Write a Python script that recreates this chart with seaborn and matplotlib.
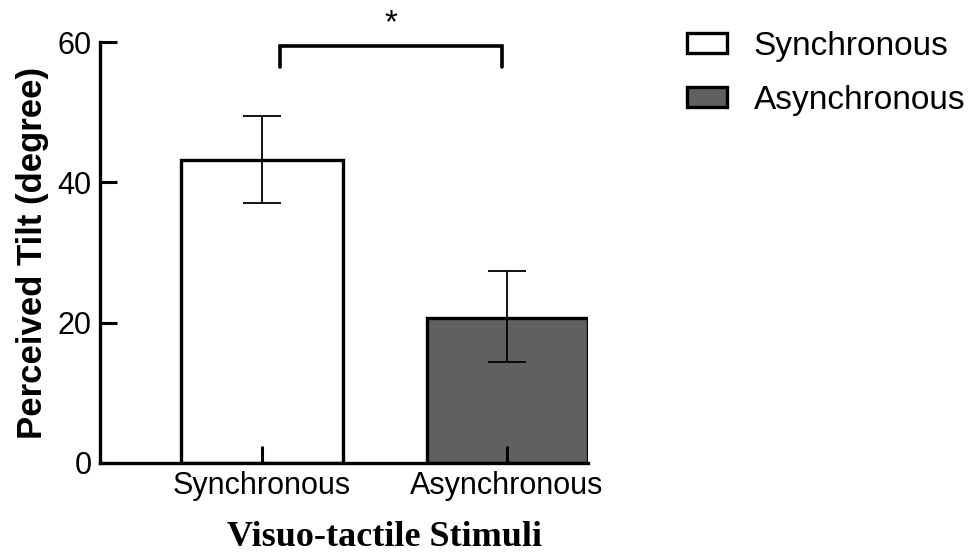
import matplotlib
matplotlib.use("Agg")
import matplotlib.pyplot as plt
from matplotlib.patches import Patch
import seaborn as sns
import pandas as pd

# Data
categories = ["Synchronous", "Asynchronous"]
means = [43.2, 20.6]
err_lower = [37.1, 14.4]
err_upper = [49.4, 27.3]
bar_colors = ["#ffffff", "#606060"]
yticks = [0, 20, 40, 60]
sig_label = "*"

sns.set_style("ticks")
plt.rcParams["font.family"] = ["Liberation Sans", "DejaVu Sans"]
plt.rcParams["text.color"] = "black"
plt.rcParams["axes.labelcolor"] = "black"

fig = plt.figure(figsize=(9.78, 5.55), dpi=100)
ax = fig.add_axes([100 / 978, 1 - 463 / 555, 488 / 978, (463 - 42) / 555])

df = pd.DataFrame({"cond": categories, "tilt": means})
sns.barplot(data=df, x="cond", y="tilt", hue="cond", palette=bar_colors,
            edgecolor="black", linewidth=2.4, width=0.657, legend=False,
            errorbar=None, ax=ax, zorder=1)

xs = list(range(len(categories)))
yerr = [[m - lo for m, lo in zip(means, err_lower)],
        [hi - m for m, hi in zip(means, err_upper)]]
ax.errorbar(xs, means, yerr=yerr, fmt="none", ecolor="black",
            elinewidth=1.3, capsize=14, capthick=1.3, zorder=3)

ax.set_axisbelow(False)
ax.set_xlim(-0.661, 1.33)
ax.set_ylim(0, 60)
ax.set_yticks(yticks)
ax.set_xticks(xs)
ax.set_xticklabels(categories)

for s in ["top", "right"]:
    ax.spines[s].set_visible(False)
for s in ["left", "bottom"]:
    ax.spines[s].set_linewidth(2.4)
    ax.spines[s].set_color("black")

ax.tick_params(axis="both", direction="in", length=12, width=2.2,
               colors="black", labelsize=22)
ax.tick_params(axis="y", pad=6)
ax.tick_params(axis="x", pad=6)

ax.set_ylabel("Perceived Tilt (degree)", fontsize=25, fontweight="bold",
              labelpad=6, color="black")
ax.set_xlabel("Visuo-tactile Stimuli", fontsize=26, fontweight="bold",
              family=["Liberation Serif", "DejaVu Serif"], color="black")
ax.xaxis.set_label_coords(0.583, -0.137)

# significance bracket
bx0, bx1, by_top, by_bot = 0.073, 0.98, 59.4, 56.4
ax.plot([bx0, bx0, bx1, bx1], [by_bot, by_top, by_top, by_bot],
        color="black", lw=2.6, clip_on=False, solid_joinstyle="miter")
ax.text((bx0 + bx1) / 2, 62.6, sig_label, ha="center", va="center",
        fontsize=24, clip_on=False, color="black")

handles = [Patch(facecolor=c, edgecolor="black", linewidth=2.4)
           for c in bar_colors]
leg = fig.legend(handles, categories, loc="upper left",
                 bbox_to_anchor=(687 / 978, 1 - 31 / 555), frameon=False,
                 fontsize=24, handlelength=1.2, handleheight=0.55,
                 handletextpad=0.8, labelspacing=0.68, borderaxespad=0,
                 borderpad=0)
for t in leg.get_texts():
    t.set_color("black")

fig.savefig("out.png", dpi=100)
